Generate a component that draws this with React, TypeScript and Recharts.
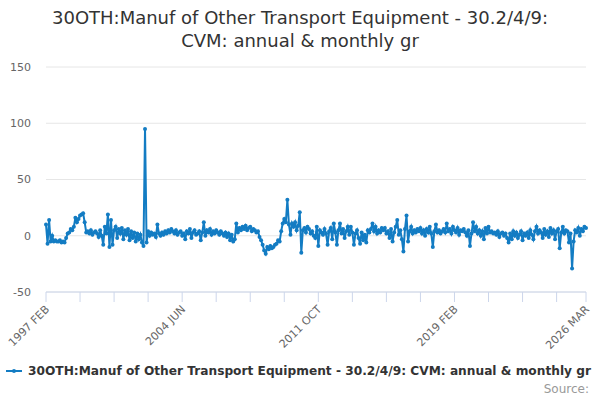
import { LineChart, Line, XAxis, YAxis, CartesianGrid } from 'recharts';

const START_YEAR = 1997;
const START_MONTH = 1; // FEB, zero based
const MONTHS = ['JAN', 'FEB', 'MAR', 'APR', 'MAY', 'JUN', 'JUL', 'AUG', 'SEP', 'OCT', 'NOV', 'DEC'];

// monthly growth values, 1997 FEB .. 2026 MAR
const growth = [
  10, -7, 14, -5, 0, -5, -4, -5, -5, -4,
  -6, -5, -6, -2, 2, 3, 6, 5, 8, 16,
  12, 15, 18, 19, 20, 12, 3, 4, 2, 5,
  1, 3, 4, 2, -1, 5, 0, -8, 8, 2,
  19, -10, 14, -8, 5, 8, -2, 6, 2, 7,
  -3, 5, 1, 6, -4, 4, -2, 3, -5, 2,
  -3, 1, -6, -9, 95, -6, 4, 0, 3, 1,
  2, -1, 10, 2, 0, 3, 1, 4, 2, 5,
  3, 6, 4, 2, 5, 1, 3, 4, 0, 2,
  -3, 4, 2, 6, -2, 3, 5, 1, 2, 4,
  -4, 3, 12, 0, 5, 3, 6, 1, 4, 2,
  5, 3, 1, 4, 2, 0, 3, -1, 2, -4,
  1, -5, -3, 11, 3, 7, 5, 8, 6, 9,
  5, 7, 8, 4, 6, 5, 3, 4, -1, -4,
  -8, -13, -16, -10, -12, -9, -11, -10, -8, -7,
  -4, -5, 4, 11, 15, 12, 32, 10, 1, 11,
  8, 12, 5, 9, 21, -15, 5, 7, 3, 8,
  6, 2, 4, 0, -2, 8, -9, 5, 3, 1,
  6, 2, -8, 4, 7, -3, 11, 3, -8, 5,
  11, 2, 6, -2, 4, 8, 1, 8, 3, -8,
  2, 5, -2, -7, 3, -4, 1, -6, 5, 3,
  6, 11, 4, 8, 2, 5, 3, 7, 5, 7,
  2, 4, -2, 6, -5, 3, 8, 14, 1, 5,
  -3, -14, 6, 18, -5, 4, 8, 2, 5, 3,
  6, 4, 7, 2, 5, 0, 6, 3, 8, 2,
  -10, 4, 10, 3, 5, 2, 4, 6, 3, 11,
  4, 6, 2, 8, 5, 3, 7, 1, 5, 4,
  6, 3, 0, 5, -9, 2, 12, 4, 8, 2,
  5, 0, 4, -3, 7, 2, 8, 3, 4, 2,
  3, 1, 4, -1, 2, 3, 0, 2, -2, -6,
  2, -3, 4, 0, 3, -2, 1, 4, -4, 2,
  0, 3, -2, 5, 1, -3, 4, 8, 2, 5,
  3, -2, 6, 1, 4, -1, 7, 2, 5, -3,
  4, 6, -11, 3, 8, 2, 5, 4, -6, 2,
  -29, -5, 5, 3, 7, 0, 6, 4, 8, 7,
];

const yTicks = [-50, 0, 50, 100, 150];
const xTicks = [0, 22, 44, 66, 88, 110, 132, 154, 176, 198, 220, 242, 264, 286, 308, 330, 349];
const labelledTicks = [0, 88, 176, 264, 349];

const seriesName = '30OTH:Manuf of Other Transport Equipment - 30.2/4/9: CVM: annual & monthly gr';

const FONT = '"DejaVu Sans", sans-serif';
const BLUE = '#137cc3';

const monthLabel = (i: number) => {
  const m = START_MONTH + i;
  return `${START_YEAR + Math.floor(m / 12)} ${MONTHS[m % 12]}`;
};

const data = growth.map((v, i) => ({ i, label: monthLabel(i), value: v }));

const XTick = ({ x, y, payload }: any) => {
  const show = labelledTicks.includes(payload.value);
  return (
    <g>
      <line x1={x} y1={y - 8} x2={x} y2={y + 2} stroke="#ccd6eb" strokeWidth={1} />
      {show && (
        <text
          x={x + 4}
          y={y + 10}
          textAnchor="end"
          fill="#666"
          fontSize={11}
          fontFamily={FONT}
          transform={`rotate(-45, ${x + 4}, ${y + 10})`}
        >
          {monthLabel(payload.value)}
        </text>
      )}
    </g>
  );
};

export default function App() {
  return (
    <div style={{ position: 'fixed', left: 0, top: 0, width: 600, height: 400, background: '#fff', fontFamily: FONT }}>
      <div style={{ position: 'absolute', left: 0, top: 6, width: 600, textAlign: 'center', fontSize: 18, lineHeight: '23px', color: '#333' }}>
        30OTH:Manuf of Other Transport Equipment - 30.2/4/9:<br />CVM: annual &amp; monthly gr
      </div>
      <LineChart width={600} height={400} data={data} margin={{ top: 67, right: 14, bottom: 78, left: 0 }}>
        <CartesianGrid vertical={false} stroke="#e6e6e6" />
        <XAxis
          dataKey="i"
          type="number"
          domain={[0, 349]}
          ticks={xTicks}
          interval={0}
          height={30}
          stroke="#ccd6eb"
          tickLine={false}
          tick={<XTick />}
        />
        <YAxis
          domain={[-50, 150]}
          ticks={yTicks}
          width={46}
          axisLine={false}
          tickLine={false}
          tickMargin={9}
          tick={{ fill: '#666', fontSize: 11, fontFamily: FONT }}
        />
        <Line
          dataKey="value"
          stroke={BLUE}
          strokeWidth={2}
          dot={{ r: 2, fill: BLUE, stroke: BLUE, strokeWidth: 0 }}
          isAnimationActive={false}
        />
      </LineChart>
      <div style={{ position: 'absolute', left: 6, top: 364, width: 588, overflow: 'hidden', whiteSpace: 'nowrap', display: 'flex', alignItems: 'center' }}>
        <svg width={18} height={10} style={{ flex: 'none' }}>
          <line x1={0} y1={5} x2={16} y2={5} stroke={BLUE} strokeWidth={2} />
          <circle cx={8} cy={5} r={2} fill={BLUE} />
        </svg>
        <span style={{ marginLeft: 4, fontSize: 12.2, fontWeight: 'bold', color: '#333' }}>{seriesName}</span>
      </div>
      <div style={{ position: 'absolute', right: 11, top: 382, fontSize: 12, color: '#999' }}>Source:</div>
    </div>
  );
}
